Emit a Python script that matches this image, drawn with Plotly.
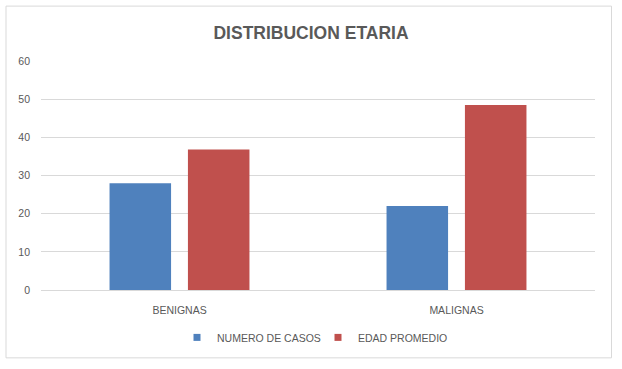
import plotly.graph_objects as go

categories = ["BENIGNAS", "MALIGNAS"]
numero_casos = [28, 22]
edad_promedio = [36.8, 48.5]
series_names = ["NUMERO DE CASOS", "EDAD PROMEDIO"]
y_ticks = [0, 10, 20, 30, 40, 50, 60]

BLUE = "#4F81BD"
RED = "#C0504D"
TEXT = "#595959"
GRID = "#D9D9D9"
FONT = "Liberation Sans"

fig = go.Figure()
fig.add_trace(go.Bar(x=categories, y=numero_casos, name=series_names[0],
                     marker=dict(color=BLUE, line=dict(width=0)), showlegend=False))
fig.add_trace(go.Bar(x=categories, y=edad_promedio, name=series_names[1],
                     marker=dict(color=RED, line=dict(width=0)), showlegend=False))
# legend entries with small square swatches
for name, col in zip(series_names, [BLUE, RED]):
    fig.add_trace(go.Scatter(x=[None], y=[None], mode="markers", name=name,
                             marker=dict(symbol="square", size=7, color=col),
                             showlegend=True))

W, H = 622, 369
L, R, T, B = 41, 27, 60.5, 79
pw = W - L - R
ph = H - T - B

def px_to_paper_x(px):
    return (px - L) / pw

def px_to_paper_y(py):
    return (H - B - py) / ph

fig.update_layout(
    width=W, height=H,
    margin=dict(l=L, r=R, t=T, b=B),
    paper_bgcolor="white", plot_bgcolor="white",
    font=dict(family=FONT, color=TEXT, size=10),
    barmode="group", bargap=0.434, bargroupgap=0.215,
    title=dict(text="<b>DISTRIBUCION ETARIA</b>", x=0.5, xanchor="center",
               y=1 - 33 / H, yanchor="middle",
               font=dict(family=FONT, size=17.5, color=TEXT)),
    xaxis=dict(showgrid=False, showline=True, linecolor=GRID, linewidth=1,
               ticks="", tickfont=dict(size=10.5, color=TEXT), zeroline=False,
               ticklabelstandoff=10),
    yaxis=dict(range=[0, 60], tickvals=y_ticks, showgrid=True, gridcolor=GRID,
               gridwidth=1, zeroline=False, showline=False, ticks="",
               tickfont=dict(size=10.5, color=TEXT), ticklabelstandoff=10),
    legend=dict(orientation="h", x=0.5, xanchor="center",
                y=px_to_paper_y(337.5), yanchor="middle",
                font=dict(size=10.5, color=TEXT), itemwidth=30,
                entrywidth=96, entrywidthmode="pixels",
                bgcolor="rgba(0,0,0,0)"),
    shapes=[dict(type="rect", xref="paper", yref="paper",
                 x0=px_to_paper_x(6), x1=px_to_paper_x(611.5),
                 y0=px_to_paper_y(358), y1=px_to_paper_y(5.5),
                 line=dict(color=GRID, width=1), fillcolor="rgba(0,0,0,0)",
                 layer="below")],
)

fig.write_html("out.html", config={"displayModeBar": False},
               post_script="document.body.style.margin='0';document.body.style.overflow='hidden';")
